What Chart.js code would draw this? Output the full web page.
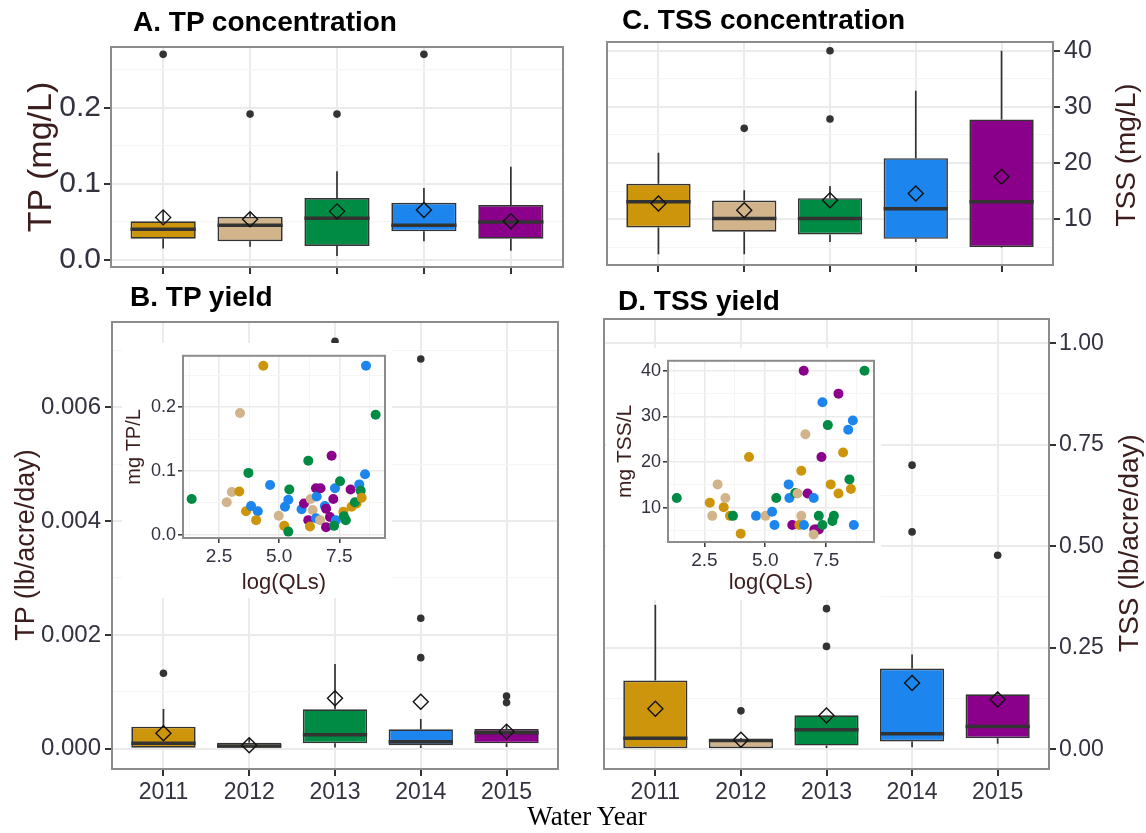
<!DOCTYPE html>
<html>
<head>
<meta charset="utf-8">
<script src="https://cdn.jsdelivr.net/npm/chart.js@4.4.1/dist/chart.umd.min.js"></script>
<style>
body { margin: 0; background: #fff; width: 1146px; height: 833px; position: relative; overflow: hidden; font-family: 'Liberation Sans', Arial, sans-serif; }
canvas { position: absolute; }
.inset { background: #fff; }
.ttl { position: absolute; font-weight: bold; font-size: 28px; line-height: 28px; color: #000; white-space: nowrap; }
.ytl { position: absolute; width: 300px; text-align: center; white-space: nowrap; color: #3b1d1d; transform: rotate(-90deg); }
#xlab { position: absolute; left: 437px; top: 803px; width: 300px; text-align: center; font-family: 'Liberation Serif', 'Times New Roman', serif; font-size: 27px; line-height: 27px; color: #000; }
</style>
</head>
<body>
<canvas id="cA"></canvas>
<canvas id="cC"></canvas>
<canvas id="cB"></canvas>
<canvas id="cD"></canvas>
<canvas id="iTP" class="inset"></canvas>
<canvas id="iTSS" class="inset"></canvas>

<div class="ttl" style="left:133px; top:8px;">A. TP concentration</div>
<div class="ttl" style="left:622px; top:6px;">C. TSS concentration</div>
<div class="ttl" style="left:130px; top:283px;">B. TP yield</div>
<div class="ttl" style="left:618px; top:287px;">D. TSS yield</div>

<div class="ytl" style="left:-111px; top:137px; font-size:34px; line-height:40px;">TP (mg/L)</div>
<div class="ytl" style="left:976px; top:138px; font-size:28px; line-height:34px;">TSS (mg/L)</div>
<div class="ytl" style="left:-125px; top:529px; font-size:27px; line-height:32px;">TP (lb/acre/day)</div>
<div class="ytl" style="left:979px; top:526px; font-size:28px; line-height:34px;">TSS (lb/acre/day)</div>
<div id="xlab">Water Year</div>

<script>
const years = ['2011', '2012', '2013', '2014', '2015'];
const yearColors = ['#CD950C', '#D2B48C', '#008B45', '#1C86EE', '#8B008B'];

// A. TP concentration (mg/L)
const tpConcLow = [0.015, 0.0175, 0.0053, 0.0246, 0.0123];
const tpConcQ1 = [0.028, 0.0246, 0.0184, 0.0377, 0.028];
const tpConcMed = [0.0404, 0.0456, 0.0548, 0.0456, 0.050];
const tpConcQ3 = [0.0509, 0.057, 0.0816, 0.0754, 0.0724];
const tpConcHigh = [0.0649, 0.063, 0.1167, 0.0947, 0.1228];
const tpConcMean = [0.0561, 0.0535, 0.064, 0.0658, 0.0509];
const tpConcOut = [[0.2706], [0.192], [0.192], [0.2706], []];
const tpConcMajor = [0, 0.1, 0.2];
const tpConcMinor = [0.05, 0.15, 0.25];

// C. TSS concentration (mg/L)
const tssConcLow = [3.83, 3.83, 6.01, 6.01, 5.0];
const tssConcQ1 = [8.58, 7.8, 7.33, 6.55, 5.12];
const tssConcMed = [13.13, 10.18, 10.18, 11.89, 13.13];
const tssConcQ3 = [16.33, 13.38, 13.79, 20.9, 27.79];
const tssConcHigh = [21.85, 15.2, 15.93, 32.88, 40.0];
const tssConcMean = [12.85, 11.65, 13.43, 14.63, 17.58];
const tssConcOut = [[], [26.2], [40.0, 27.85], [], []];
const tssConcMajor = [10, 20, 30, 40];
const tssConcMinor = [5, 15, 25, 35];

// B. TP yield (lb/acre/day)
const tpYieldLow = [0, 0, 0.00002, 0.00001, 0.00003];
const tpYieldQ1 = [0, 0, 0.000094, 0.00006, 0.000094];
const tpYieldMed = [0.000094, 0.000047, 0.000246, 0.000124, 0.000282];
const tpYieldQ3 = [0.000387, 0.000106, 0.000693, 0.00034, 0.000346];
const tpYieldHigh = [0.000698, 0.000182, 0.00149, 0.000522, 0.000416];
const tpYieldMean = [0.00027, 0.00006, 0.000886, 0.000827, 0.0003];
const tpYieldOut = [[0.001326], [], [0.00716], [0.00685, 0.002293, 0.0016], [0.000927, 0.00081]];
const tpYieldMajor = [0, 0.002, 0.004, 0.006];
const tpYieldMinor = [0.001, 0.003, 0.005, 0.007];

// D. TSS yield (lb/acre/day)
const tssYieldLow = [0, 0, 0.003, 0.005, 0.0133];
const tssYieldQ1 = [0, 0, 0.0091, 0.019, 0.0272];
const tssYieldMed = [0.0272, 0.0215, 0.0478, 0.038, 0.056];
const tssYieldQ3 = [0.1695, 0.0239, 0.0839, 0.199, 0.1357];
const tssYieldHigh = [0.356, 0.028, 0.0839, 0.2336, 0.1407];
const tssYieldMean = [0.0996, 0.0232, 0.0831, 0.163, 0.1226];
const tssYieldOut = [[], [0.0947], [0.2534, 0.3464], [0.700, 0.5355], [0.478]];
const tssYieldMajor = [0, 0.25, 0.5, 0.75, 1.0];
const tssYieldMinor = [0.125, 0.375, 0.625, 0.875];

// inset scatter: year index, log(QLs), mg TP/L
const tpInsetYear = [2, 1, 1, 0, 1, 0, 2, 3, 3, 0, 0, 3, 1, 0, 2, 3, 3, 2, 3, 4, 2, 4, 0, 1, 1, 4, 3, 3, 4, 1, 3, 4, 4, 4, 4, 4, 3, 3, 2, 0, 2, 2, 2, 4, 0, 0, 2, 3, 2, 0, 3, 3, 2];
const tpInsetLogQ = [1.36, 2.82, 3.03, 3.34, 3.37, 3.62, 3.72, 3.83, 4.11, 4.04, 4.34, 4.62, 4.98, 5.21, 5.38, 5.24, 5.38, 5.42, 5.93, 6.03, 6.21, 6.21, 6.28, 6.31, 6.39, 6.53, 6.56, 6.53, 6.72, 6.70, 6.90, 6.95, 6.95, 7.11, 7.18, 7.25, 7.32, 7.36, 7.28, 7.67, 7.53, 7.69, 7.77, 7.97, 8.01, 8.22, 8.15, 8.33, 8.39, 8.43, 8.57, 8.61, 9.01];
const tpInsetConc = [0.056, 0.051, 0.067, 0.068, 0.191, 0.037, 0.097, 0.045, 0.037, 0.023, 0.265, 0.078, 0.030, 0.014, 0.005, 0.044, 0.055, 0.071, 0.040, 0.049, 0.116, 0.023, 0.013, 0.056, 0.039, 0.073, 0.060, 0.026, 0.073, 0.023, 0.045, 0.041, 0.012, 0.028, 0.124, 0.056, 0.073, 0.023, 0.014, 0.036, 0.084, 0.029, 0.023, 0.071, 0.044, 0.049, 0.051, 0.079, 0.069, 0.058, 0.095, 0.265, 0.188];

// inset scatter: year index, log(QLs), mg TSS/L
const tssInsetYear = [2, 0, 1, 1, 0, 1, 0, 2, 0, 0, 3, 1, 3, 3, 2, 3, 3, 4, 2, 1, 0, 1, 0, 4, 3, 1, 4, 3, 4, 4, 4, 1, 2, 2, 3, 4, 2, 0, 2, 2, 4, 0, 0, 3, 2, 0, 3, 3, 2];
const tssInsetLogQ = [1.36, 2.72, 2.82, 3.04, 3.29, 3.36, 3.55, 3.67, 3.99, 4.33, 4.62, 5.01, 5.28, 5.38, 5.45, 5.96, 5.99, 6.11, 6.23, 6.33, 6.48, 6.48, 6.40, 6.58, 6.59, 6.65, 6.74, 6.99, 7.02, 7.11, 7.20, 6.99, 7.20, 7.35, 7.35, 7.31, 7.57, 7.69, 7.76, 7.82, 8.01, 8.01, 8.20, 8.41, 8.46, 8.52, 8.60, 8.64, 9.08];
const tssInsetConc = [12.1, 11.1, 8.2, 15.1, 10.1, 12.1, 8.2, 8.2, 4.3, 21.1, 8.2, 8.2, 9.1, 6.2, 12.1, 15.1, 12.1, 6.2, 13.2, 13.1, 18.1, 8.2, 6.2, 40.0, 6.2, 26.1, 13.1, 12.1, 5.2, 5.2, 5.2, 4.1, 8.2, 6.2, 33.1, 21.1, 28.1, 15.1, 7.1, 8.2, 35.0, 13.1, 22.1, 27.1, 16.2, 14.1, 29.1, 6.2, 40.0];
const insetQMajor = [2.5, 5.0, 7.5];
const insetQMinor = [1.25, 3.75, 6.25, 8.75];

const tickColor = '#333340';
const titleColor = '#3b1d1d';

// panel border drawn around the chart area
Chart.register({
    id: 'frame',
    afterDraw(chart) {
        const {ctx, chartArea: a} = chart;
        ctx.save();
        ctx.strokeStyle = '#8c8c8c';
        ctx.lineWidth = 2;
        ctx.strokeRect(a.left, a.top, a.right - a.left, a.bottom - a.top);
        ctx.restore();
    }
});

// whiskers and median lines, drawn right after the boxes
const boxLines = {
    id: 'boxLines',
    afterDatasetDraw(chart, args) {
        if (args.index !== 0) return;
        const st = chart.data.datasets[0].stats;
        const {ctx, scales: {x, y}} = chart;
        const half = args.meta.data[0].width / 2;
        ctx.save();
        ctx.strokeStyle = '#333';
        st.med.forEach((m, i) => {
            const px = x.getPixelForValue(i + 1);
            ctx.lineWidth = 1.7;
            ctx.beginPath();
            ctx.moveTo(px, y.getPixelForValue(st.q3[i]));
            ctx.lineTo(px, y.getPixelForValue(st.hi[i]));
            ctx.moveTo(px, y.getPixelForValue(st.q1[i]));
            ctx.lineTo(px, y.getPixelForValue(st.lo[i]));
            ctx.stroke();
            ctx.lineWidth = 3.5;
            ctx.beginPath();
            ctx.moveTo(px - half, y.getPixelForValue(m));
            ctx.lineTo(px + half, y.getPixelForValue(m));
            ctx.stroke();
        });
        ctx.restore();
    }
};

function place(cv, b) {
    cv.width = b.w;
    cv.height = b.h;
    cv.style.left = b.x + 'px';
    cv.style.top = b.y + 'px';
}

function padFor(p) {
    const right = p.side === 'right';
    return {
        left: p.frame.l - p.box.x - (right ? 0 : p.axisW),
        right: p.box.x + p.box.w - p.frame.r - (right ? p.axisW : 0),
        top: p.frame.t - p.box.y,
        bottom: p.box.y + p.box.h - p.frame.b - p.axisH
    };
}

const near = (list, v) => list.some(m => Math.abs(m - v) < 1e-9);

function boxPanel(id, p) {
    const cv = document.getElementById(id);
    place(cv, p.box);
    const idx = years.map((_, i) => i + 1);
    const outPts = [];
    p.out.forEach((vals, i) => vals.forEach(v => outPts.push({x: i + 1, y: v})));
    const yTicks = p.major.concat(p.minor).sort((a, b) => a - b);
    const major = v => near(p.major, v);

    new Chart(cv, {
        type: 'bar',
        data: {
            datasets: [{
                data: idx.map(i => ({x: i, y: [p.q1[i - 1], p.q3[i - 1]]})),
                backgroundColor: yearColors,
                borderColor: '#333',
                borderWidth: 1.7,
                borderSkipped: false,
                categoryPercentage: 1,
                barPercentage: 0.75,
                order: 3,
                stats: {q1: p.q1, med: p.med, q3: p.q3, lo: p.lo, hi: p.hi}
            }, {
                type: 'scatter',
                data: idx.map(i => ({x: i, y: p.mean[i - 1]})),
                pointStyle: 'rectRot',
                radius: 7.5,
                borderColor: '#111',
                borderWidth: 1.4,
                backgroundColor: 'rgba(0,0,0,0)',
                order: 2
            }, {
                type: 'scatter',
                data: outPts,
                pointStyle: 'circle',
                radius: 3.8,
                backgroundColor: '#333',
                borderWidth: 0,
                order: 1
            }]
        },
        options: {
            responsive: false,
            animation: false,
            events: [],
            layout: {padding: padFor(p)},
            plugins: {legend: {display: false}, tooltip: {enabled: false}},
            scales: {
                x: {
                    type: 'linear',
                    min: 0.4,
                    max: 5.6,
                    offset: false,
                    afterBuildTicks: s => { s.ticks = idx.map(v => ({value: v})); },
                    afterFit: s => { s.height = p.axisH; },
                    border: {display: false},
                    grid: {offset: false, color: '#ebebeb', lineWidth: 2, tickLength: 7, tickColor: '#333', tickWidth: 2},
                    ticks: {
                        callback: v => p.showX ? years[v - 1] : '',
                        font: {size: 23, family: 'Liberation Sans'},
                        color: tickColor,
                        padding: 3,
                        maxRotation: 0,
                        autoSkip: false
                    }
                },
                y: {
                    position: p.side,
                    min: p.min,
                    max: p.max,
                    afterBuildTicks: s => { s.ticks = yTicks.map(v => ({value: v})); },
                    afterFit: s => { s.width = p.axisW; },
                    border: {display: false},
                    grid: {
                        color: c => major(c.tick.value) ? '#ebebeb' : '#f5f5f5',
                        lineWidth: c => major(c.tick.value) ? 2 : 1.2,
                        tickColor: c => major(c.tick.value) ? '#333' : 'rgba(0,0,0,0)',
                        tickLength: 7,
                        tickWidth: 2
                    },
                    ticks: {
                        callback: v => major(v) ? v.toFixed(p.digits) : '',
                        font: {size: p.tickSize, family: 'Liberation Sans'},
                        color: tickColor,
                        padding: p.tickPad,
                        autoSkip: false
                    }
                }
            }
        },
        plugins: [boxLines]
    });
}

function insetPanel(id, p) {
    const cv = document.getElementById(id);
    place(cv, p.box);
    const yTicks = p.major.concat(p.minor).sort((a, b) => a - b);
    const xTicks = insetQMajor.concat(insetQMinor).sort((a, b) => a - b);
    const majorY = v => near(p.major, v);
    const majorX = v => near(insetQMajor, v);

    new Chart(cv, {
        type: 'scatter',
        data: {
            datasets: [{
                data: p.xs.map((q, i) => ({x: q, y: p.ys[i]})),
                backgroundColor: p.yr.map(k => yearColors[k]),
                borderWidth: 0,
                radius: 5
            }]
        },
        options: {
            responsive: false,
            animation: false,
            events: [],
            layout: {padding: padFor(p)},
            plugins: {legend: {display: false}, tooltip: {enabled: false}},
            scales: {
                x: {
                    min: p.xMin,
                    max: p.xMax,
                    afterBuildTicks: s => { s.ticks = xTicks.map(v => ({value: v})); },
                    afterFit: s => { s.height = p.axisH; },
                    border: {display: false},
                    grid: {
                        color: c => majorX(c.tick.value) ? '#ebebeb' : '#f5f5f5',
                        lineWidth: c => majorX(c.tick.value) ? 1.6 : 1,
                        tickColor: c => majorX(c.tick.value) ? '#333' : 'rgba(0,0,0,0)',
                        tickLength: 5,
                        tickWidth: 1.5
                    },
                    ticks: {
                        callback: v => majorX(v) ? v.toFixed(1) : '',
                        font: {size: 19, family: 'Liberation Sans'},
                        color: tickColor,
                        padding: 2,
                        maxRotation: 0,
                        autoSkip: false
                    },
                    title: {
                        display: true,
                        text: 'log(QLs)',
                        font: {size: 22, family: 'Liberation Sans'},
                        color: titleColor,
                        padding: {top: 0, bottom: p.xTitlePad}
                    }
                },
                y: {
                    min: p.min,
                    max: p.max,
                    afterBuildTicks: s => { s.ticks = yTicks.map(v => ({value: v})); },
                    afterFit: s => { s.width = p.axisW; },
                    border: {display: false},
                    grid: {
                        color: c => majorY(c.tick.value) ? '#ebebeb' : '#f5f5f5',
                        lineWidth: c => majorY(c.tick.value) ? 1.6 : 1,
                        tickColor: c => majorY(c.tick.value) ? '#333' : 'rgba(0,0,0,0)',
                        tickLength: 5,
                        tickWidth: 1.5
                    },
                    ticks: {
                        callback: v => majorY(v) ? v.toFixed(p.digits) : '',
                        font: {size: 18, family: 'Liberation Sans'},
                        color: tickColor,
                        padding: 2,
                        autoSkip: false
                    },
                    title: {
                        display: true,
                        text: p.title,
                        font: {size: p.titleSize, family: 'Liberation Sans'},
                        color: titleColor,
                        padding: {top: p.yTitlePad, bottom: 0}
                    }
                }
            }
        }
    });
}

boxPanel('cA', {
    box: {x: 0, y: 0, w: 580, h: 300}, frame: {l: 111, t: 47, r: 563, b: 267},
    side: 'left', axisW: 111, axisH: 10, min: -0.0092, max: 0.2803,
    major: tpConcMajor, minor: tpConcMinor, digits: 1, tickSize: 30, tickPad: 3, showX: false,
    q1: tpConcQ1, med: tpConcMed, q3: tpConcQ3, lo: tpConcLow, hi: tpConcHigh, mean: tpConcMean, out: tpConcOut
});

boxPanel('cC', {
    box: {x: 580, y: 0, w: 566, h: 300}, frame: {l: 607, t: 42, r: 1053, b: 265},
    side: 'right', axisW: 93, axisH: 10, min: 1.9, max: 41.55,
    major: tssConcMajor, minor: tssConcMinor, digits: 0, tickSize: 25, tickPad: 4, showX: false,
    q1: tssConcQ1, med: tssConcMed, q3: tssConcQ3, lo: tssConcLow, hi: tssConcHigh, mean: tssConcMean, out: tssConcOut
});

boxPanel('cB', {
    box: {x: 0, y: 285, w: 580, h: 548}, frame: {l: 112, t: 322, r: 558, b: 769},
    side: 'left', axisW: 112, axisH: 45, min: -0.000357, max: 0.0075,
    major: tpYieldMajor, minor: tpYieldMinor, digits: 3, tickSize: 24, tickPad: 4, showX: true,
    q1: tpYieldQ1, med: tpYieldMed, q3: tpYieldQ3, lo: tpYieldLow, hi: tpYieldHigh, mean: tpYieldMean, out: tpYieldOut
});

boxPanel('cD', {
    box: {x: 580, y: 285, w: 566, h: 548}, frame: {l: 604, t: 319, r: 1049, b: 769},
    side: 'right', axisW: 97, axisH: 45, min: -0.0486, max: 1.06,
    major: tssYieldMajor, minor: tssYieldMinor, digits: 2, tickSize: 23, tickPad: 3, showX: true,
    q1: tssYieldQ1, med: tssYieldMed, q3: tssYieldQ3, lo: tssYieldLow, hi: tssYieldHigh, mean: tssYieldMean, out: tssYieldOut
});

insetPanel('iTP', {
    box: {x: 122, y: 343, w: 270, h: 255}, frame: {l: 183, t: 353, r: 385, b: 538},
    side: 'left', axisW: 61, axisH: 60, xMin: 1.0, xMax: 9.4, min: -0.005, max: 0.2805,
    major: [0, 0.1, 0.2], minor: [0.05, 0.15, 0.25], digits: 1,
    title: 'mg TP/L', titleSize: 20, yTitlePad: 0, xTitlePad: 2,
    yr: tpInsetYear, xs: tpInsetLogQ, ys: tpInsetConc
});

insetPanel('iTSS', {
    box: {x: 606, y: 348, w: 275, h: 252}, frame: {l: 668, t: 357, r: 874, b: 542},
    side: 'left', axisW: 62, axisH: 58, xMin: 1.0, xMax: 9.47, min: 2.47, max: 42.2,
    major: [10, 20, 30, 40], minor: [5, 15, 25, 35], digits: 0,
    title: 'mg TSS/L', titleSize: 21, yTitlePad: 7, xTitlePad: 4,
    yr: tssInsetYear, xs: tssInsetLogQ, ys: tssInsetConc
});
</script>
</body>
</html>
